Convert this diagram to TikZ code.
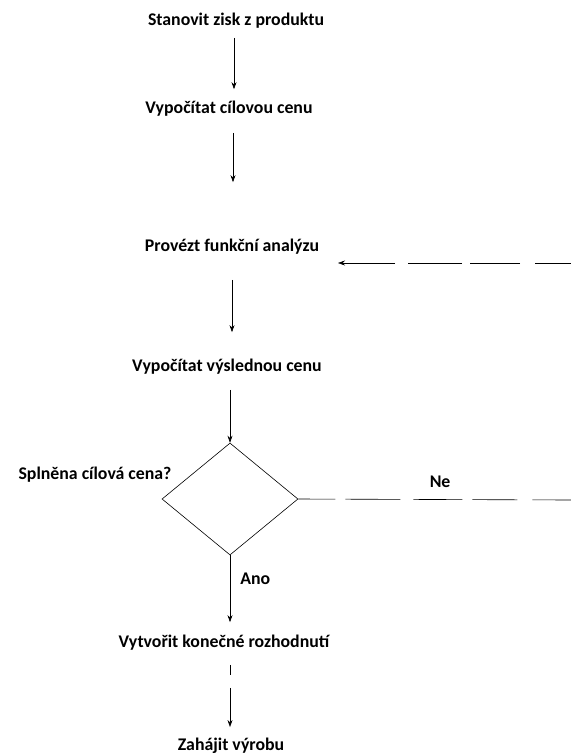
\documentclass[tikz,border=0pt]{standalone}
\usepackage{fontspec}
\setmainfont{Carlito}
\usetikzlibrary{arrows.meta,shapes.geometric}

\begin{document}
\begin{tikzpicture}[x=1pt,y=-1pt]
    \tikzset{
        stepnode/.style={font=\bfseries\fontsize{17.8}{21}\selectfont, inner sep=0pt},
        flow/.style={-{Stealth[length=7pt,width=5pt]}, line width=0.6pt},
        plainline/.style={line width=0.6pt}
    }
    \useasboundingbox (0,0) rectangle (571,756);
    \node[stepnode] (zisk) at (236,21) {Stanovit zisk z produktu};
    \node[stepnode] (cil) at (229,109) {Vypočítat cílovou cenu};
    \node[stepnode] (analyza) at (232,247) {Provézt funkční analýzu};
    \node[stepnode] (vysledna) at (227,367) {Vypočítat výslednou cenu};
    \node[draw, plainline, diamond, minimum width=136pt, minimum height=112pt, inner sep=0pt] (splneno) at (230,499) {};
    \node[stepnode] (otazka) at (95,475) {Splněna cílová cena?};
    \node[stepnode] (rozhodnuti) at (224,643) {Vytvořit konečné rozhodnutí};
    \node[stepnode] (vyroba) at (231,746) {Zahájit výrobu};
    \coordinate (zpet) at (571,263);
    \coordinate (zpet hrot) at (338,263);
    \coordinate (ne konec) at (571,500);

    \draw[flow, shorten <=9pt, shorten >=12pt] (zisk.south -| 234,0) -- (cil.north -| 234,0);
    \draw[flow, shorten <=16pt, shorten >=57pt] (cil.south -| 233,0) -- (analyza.north -| 233,0);
    \draw[flow, shorten <=25pt, shorten >=27pt] (analyza.south -| 232,0) -- (vysledna.north -| 232,0);
    \draw[flow, shorten <=15pt] (vysledna.south -| splneno.north) -- (splneno.north);
    \draw[flow, shorten >=13pt] (splneno.south) -- (rozhodnuti.north -| splneno.south)
        node[stepnode, pos=0.3, right=10pt] {Ano};
    \draw[flow, shorten <=14pt, shorten >=11pt, dash pattern=on 10pt off 13pt on 80pt]
        (rozhodnuti.south -| splneno.south) -- (vyroba.north -| splneno.south);
    \draw[flow, dash pattern=on 36pt off 15pt on 50pt off 8pt on 54pt off 13pt on 80pt] (zpet) -- (zpet hrot);
    \draw[plainline, dash pattern=on 37pt off 10pt on 55pt off 13pt on 49pt off 10pt on 45pt off 15pt on 80pt]
        (splneno.east) -- (ne konec) node[stepnode, pos=0.52, above=12pt] {Ne};
\end{tikzpicture}
\end{document}
